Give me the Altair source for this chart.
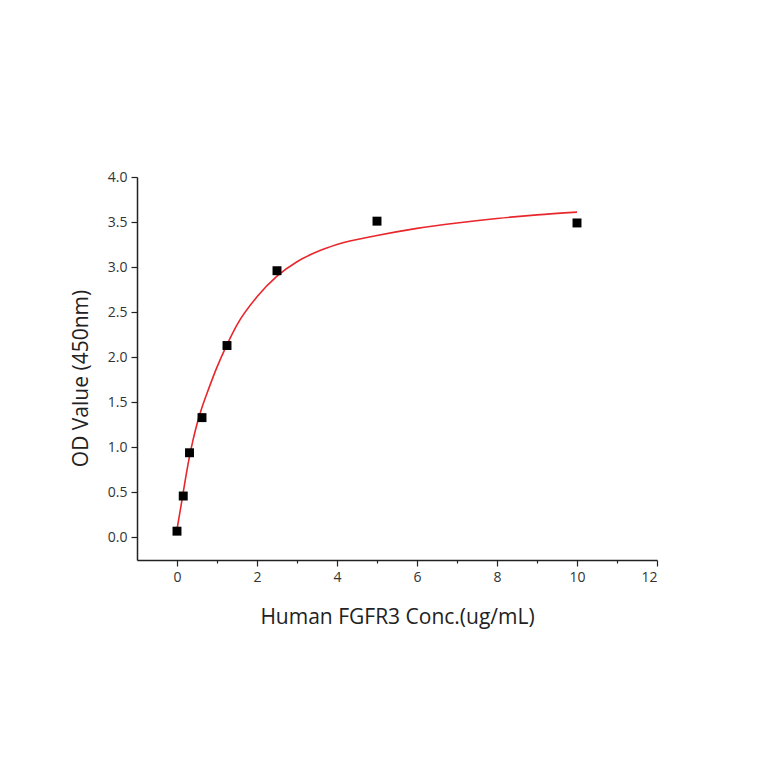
import altair as alt
import pandas as pd

# measured points
conc = [0, 0.156, 0.3125, 0.625, 1.25, 2.5, 5, 10]
od = [0.07, 0.46, 0.94, 1.33, 2.13, 2.96, 3.51, 3.49]

# fitted curve
fit_x = [0, 0.1, 0.2, 0.3, 0.4, 0.5, 0.6, 0.8, 1.0, 1.25, 1.5, 2.0, 2.5,
         3.0, 3.5, 4.0, 5.0, 6.0, 7.0, 8.0, 9.0, 10.0]
fit_y = [0.09, 0.35, 0.62, 0.87, 1.08, 1.26, 1.41, 1.66, 1.89, 2.14, 2.36,
         2.67, 2.90, 3.06, 3.17, 3.25, 3.35, 3.43, 3.49, 3.54, 3.58, 3.61]

x_ticks = list(range(0, 13))
y_ticks = [i * 0.25 for i in range(0, 17)]

pts = pd.DataFrame({"conc": conc, "od": od})
fit = pd.DataFrame({"conc": fit_x, "od": fit_y})

font = "Open Sans"

x_enc = alt.X(
    "conc:Q",
    scale=alt.Scale(domain=[-1, 12], nice=False, zero=False),
    axis=alt.Axis(
        title="Human FGFR3 Conc.(ug/mL)",
        values=x_ticks,
        labelExpr="datum.value % 2 === 0 ? datum.label : ''",
        tickSize={"condition": {"test": "datum.value % 2 === 0", "value": 6}, "value": 3},
        grid=False,
        titlePadding=22,
    ),
)
y_enc = alt.Y(
    "od:Q",
    scale=alt.Scale(domain=[-0.25, 4.0], nice=False, zero=False),
    axis=alt.Axis(
        title="OD Value (450nm)",
        values=y_ticks,
        format=".1f",
        labelExpr="(round(datum.value * 4) % 2 === 0) ? datum.label : ''",
        tickSize={"condition": {"test": "round(datum.value * 4) % 2 === 0", "value": 6}, "value": 3},
        grid=False,
        titlePadding=16,
        titleY=201,
    ),
)

curve = alt.Chart(fit).mark_line(color="#e8262c", strokeWidth=1.6, interpolate="monotone").encode(
    x=x_enc, y=y_enc
)
dots = alt.Chart(pts).mark_square(color="black", size=80, opacity=1).encode(
    x="conc:Q", y="od:Q"
)

chart = alt.layer(curve, dots).properties(
    width=520,
    height=383,
    autosize=alt.AutoSizeParams(type="none"),
    padding={"left": 129, "top": 169, "right": 90, "bottom": 190},
).configure_view(
    stroke=None
).configure_axis(
    domainColor="#222",
    domainWidth=1.5,
    tickColor="#222",
    tickWidth=1.2,
    labelFont=font,
    labelFontSize=14,
    labelColor="#333",
    labelPadding=4,
    titleFont=font,
    titleFontSize=21,
    titleFontWeight="normal",
    titleColor="#222",
)

chart.save("out.html", embed_options={"renderer": "svg", "actions": False})
